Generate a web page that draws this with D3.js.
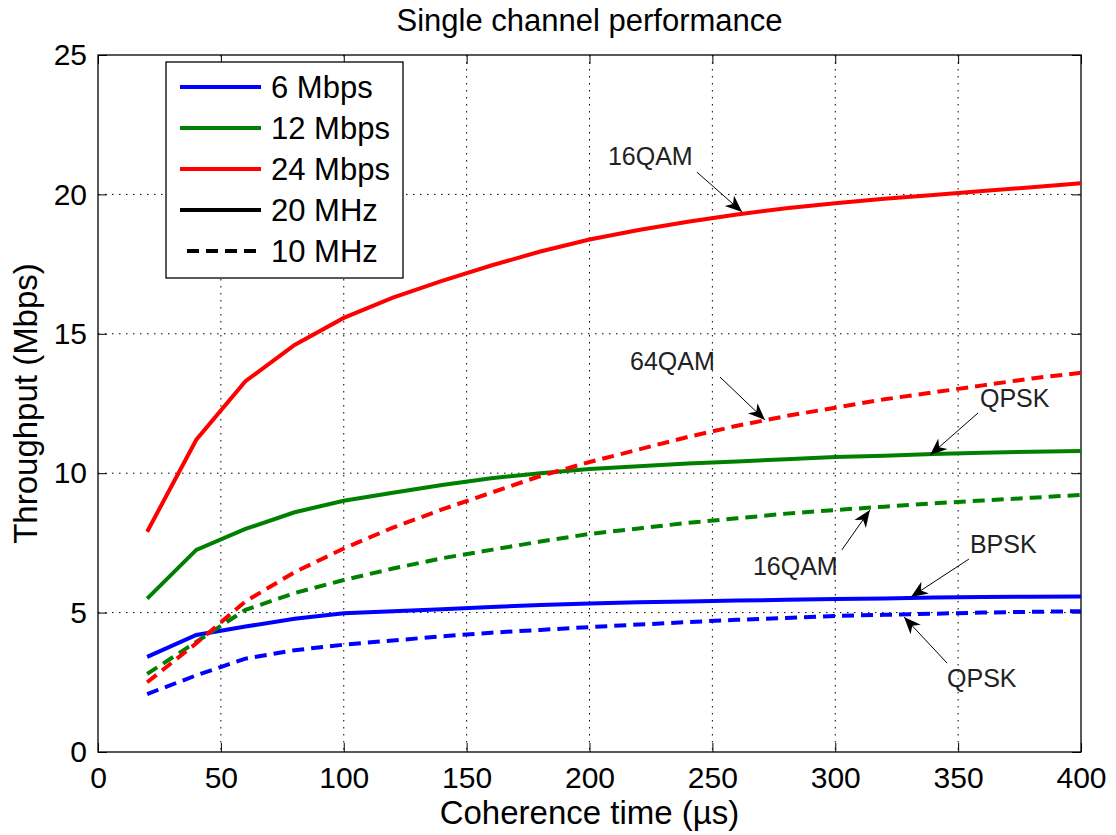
<!DOCTYPE html>
<html>
<head>
<meta charset="utf-8">
<script src="https://cdn.jsdelivr.net/npm/d3@7"></script>
<style>
  body { margin: 0; background: #fff; }
  svg text { font-family: "Liberation Sans", Arial, Helvetica, sans-serif; fill: #000; }
  .tick line { stroke: #000; }
  .grid line { stroke: #000; stroke-width: 1; stroke-dasharray: 1.5,5.5; }
</style>
</head>
<body>
<svg id="chart"></svg>
<script>
// coherence time samples (µs)
const times = [20, 40, 60, 80, 100, 120, 140, 160, 180, 200, 220, 240, 260, 280, 300, 320, 340, 360, 380, 400];

// throughput (Mbps), 20 MHz channel
const rate6_20 = [3.41, 4.2, 4.5, 4.78, 4.98, 5.05, 5.12, 5.2, 5.27, 5.33, 5.37, 5.4, 5.43, 5.46, 5.49, 5.51, 5.54, 5.56, 5.57, 5.58];
const rate12_20 = [5.5, 7.25, 8.0, 8.6, 9.01, 9.3, 9.58, 9.82, 10.0, 10.15, 10.25, 10.35, 10.42, 10.5, 10.58, 10.63, 10.69, 10.73, 10.77, 10.8];
const rate24_20 = [7.9, 11.2, 13.3, 14.6, 15.57, 16.3, 16.9, 17.45, 17.95, 18.38, 18.72, 19.02, 19.28, 19.5, 19.68, 19.84, 19.98, 20.12, 20.26, 20.4];

// throughput (Mbps), 10 MHz channel
const rate6_10 = [2.08, 2.75, 3.35, 3.65, 3.85, 4.0, 4.15, 4.28, 4.38, 4.48, 4.57, 4.66, 4.74, 4.81, 4.88, 4.92, 4.96, 5.0, 5.03, 5.05];
const rate12_10 = [2.8, 3.95, 5.1, 5.7, 6.17, 6.58, 6.95, 7.25, 7.55, 7.82, 8.02, 8.22, 8.38, 8.55, 8.68, 8.8, 8.92, 9.02, 9.12, 9.22];
const rate24_10 = [2.5, 3.9, 5.4, 6.45, 7.3, 8.05, 8.7, 9.3, 9.9, 10.4, 10.85, 11.3, 11.7, 12.05, 12.35, 12.65, 12.9, 13.15, 13.4, 13.6];

const xTicks = [0, 50, 100, 150, 200, 250, 300, 350, 400];
const yTicks = [0, 5, 10, 15, 20, 25];

const legendLabels = ["6 Mbps", "12 Mbps", "24 Mbps", "20 MHz", "10 MHz"];

// annotation labels: text anchor, arrow tail and arrow tip, in data units
const noteLabels = ["16QAM", "64QAM", "QPSK", "16QAM", "BPSK", "QPSK"];
const noteText = [[207.5, 21.05], [216.5, 13.7], [358.9, 12.37], [266.5, 6.35], [354.8, 7.14], [345.5, 2.33]];
const noteTail = [[243.7, 20.8], [253.1, 13.45], [358.1, 12.16], [302.7, 7.25], [354.4, 6.92], [345.5, 3.19]];
const noteTip = [[262.1, 19.37], [271.4, 11.91], [338.6, 10.65], [314.1, 8.68], [330.8, 5.56], [328.0, 4.84]];

(function () {
  const W = 1116, H = 835;
  const margin = { top: 55, right: 35, bottom: 83, left: 98 };
  const width = W - margin.left - margin.right;
  const height = H - margin.top - margin.bottom;

  const svg = d3.select("#chart").attr("width", W).attr("height", H);
  const g = svg.append("g").attr("transform", `translate(${margin.left},${margin.top})`);

  const x = d3.scaleLinear().domain([0, 400]).range([0, width]);
  const y = d3.scaleLinear().domain([0, 25]).range([height, 0]);

  const blue = "#0000ff", green = "#008000", red = "#ff0000";
  const dash = "12,7";

  // dotted grid
  g.append("g").attr("class", "grid")
    .selectAll("line").data(xTicks.slice(1, -1)).join("line")
    .attr("x1", (d) => x(d)).attr("x2", (d) => x(d))
    .attr("y1", 0).attr("y2", height);
  g.append("g").attr("class", "grid")
    .selectAll("line").data(yTicks.slice(1, -1)).join("line")
    .attr("y1", (d) => y(d)).attr("y2", (d) => y(d))
    .attr("x1", 0).attr("x2", width);

  // axes with inward ticks on all four sides
  const tk = 9;
  const xAxis = g.append("g").attr("transform", `translate(0,${height})`)
    .call(d3.axisBottom(x).tickValues(xTicks).tickSizeInner(-tk).tickSizeOuter(0).tickPadding(15));
  const yAxis = g.append("g")
    .call(d3.axisLeft(y).tickValues(yTicks).tickSizeInner(-tk).tickSizeOuter(0).tickPadding(11));
  g.append("g").call(d3.axisTop(x).tickValues(xTicks).tickSizeInner(-tk).tickSizeOuter(0).tickFormat(""));
  g.append("g").attr("transform", `translate(${width},0)`)
    .call(d3.axisRight(y).tickValues(yTicks).tickSizeInner(-tk).tickSizeOuter(0).tickFormat(""));
  g.selectAll(".domain").remove();
  [xAxis, yAxis].forEach((a) => a.selectAll("text").style("font-size", "30px"));
  xAxis.selectAll("text").attr("dy", "0.7em");

  g.append("rect").attr("width", width).attr("height", height)
    .attr("fill", "none").attr("stroke", "#000").attr("stroke-width", 1.3);

  // curves
  const line = d3.line().x((d) => x(d[0])).y((d) => y(d[1]));
  const series = [
    { v: rate6_20, c: blue, dashed: false },
    { v: rate12_20, c: green, dashed: false },
    { v: rate24_20, c: red, dashed: false },
    { v: rate6_10, c: blue, dashed: true },
    { v: rate12_10, c: green, dashed: true },
    { v: rate24_10, c: red, dashed: true },
  ];
  series.forEach((s) => {
    g.append("path")
      .datum(times.map((t, i) => [t, s.v[i]]))
      .attr("d", line)
      .attr("fill", "none")
      .attr("stroke", s.c)
      .attr("stroke-width", 4)
      .attr("stroke-dasharray", s.dashed ? dash : null);
  });

  // annotations with arrows
  svg.append("defs").append("marker")
    .attr("id", "arr").attr("viewBox", "-18 -8 20 16")
    .attr("refX", 0).attr("refY", 0)
    .attr("markerUnits", "userSpaceOnUse")
    .attr("markerWidth", 20).attr("markerHeight", 16)
    .attr("orient", "auto")
    .append("path").attr("d", "M0,0 L-17,-7 L-12,0 L-17,7 Z").attr("fill", "#000");

  noteLabels.forEach((lab, i) => {
    g.append("line")
      .attr("x1", x(noteTail[i][0])).attr("y1", y(noteTail[i][1]))
      .attr("x2", x(noteTip[i][0])).attr("y2", y(noteTip[i][1]))
      .attr("stroke", "#000").attr("stroke-width", 1)
      .attr("marker-end", "url(#arr)");
    g.append("text")
      .attr("x", x(noteText[i][0])).attr("y", y(noteText[i][1]))
      .style("font-size", "25px").style("fill", "#222")
      .text(lab);
  });

  // legend
  const lg = g.append("g").attr("transform", "translate(68,7)");
  lg.append("rect").attr("width", 237).attr("height", 216)
    .attr("fill", "#fff").attr("stroke", "#000").attr("stroke-width", 1.3);
  const legendColors = [blue, green, red, "#000", "#000"];
  const legendDash = [null, null, null, null, dash];
  legendLabels.forEach((lab, i) => {
    const yy = 25 + i * 41;
    lg.append("line")
      .attr("x1", legendDash[i] ? 21 : 14).attr("x2", 95)
      .attr("y1", yy).attr("y2", yy)
      .attr("stroke", legendColors[i]).attr("stroke-width", 4)
      .attr("stroke-dasharray", legendDash[i]);
    lg.append("text").attr("x", 105).attr("y", yy + 11)
      .style("font-size", "31px").text(lab);
  });

  // titles
  svg.append("text")
    .attr("x", margin.left + width / 2).attr("y", 31)
    .attr("text-anchor", "middle").style("font-size", "31px")
    .text("Single channel performance");
  svg.append("text")
    .attr("x", margin.left + width / 2).attr("y", 824)
    .attr("text-anchor", "middle").style("font-size", "33px")
    .text("Coherence time (\u00b5s)");
  svg.append("text")
    .attr("transform", `translate(37,${margin.top + height / 2}) rotate(-90)`)
    .attr("text-anchor", "middle").style("font-size", "33px")
    .text("Throughput (Mbps)");
})();
</script>
</body>
</html>
